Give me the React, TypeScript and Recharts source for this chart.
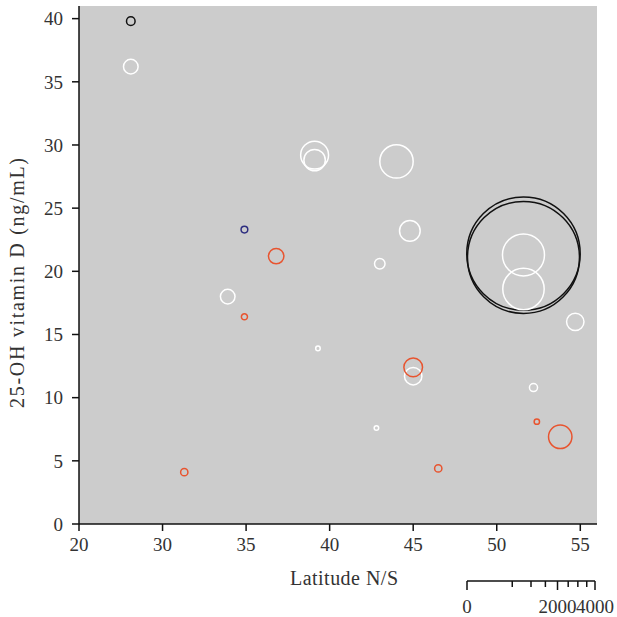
import React from 'react';
import { ScatterChart, Scatter, XAxis, YAxis, ZAxis } from 'recharts';

// latitude (deg), 25-OH vitamin D (ng/mL), sample size, colour group
const latitudes = [28.1, 28.1, 39.1, 39.1, 44.0, 44.8, 43.0, 51.6, 51.6, 51.6, 51.6, 54.7, 33.9, 34.9, 36.8, 34.9, 31.3, 39.3, 45.0, 45.0, 52.2, 42.8, 52.4, 53.8, 46.5];
const vitaminD = [39.8, 36.2, 29.2, 28.8, 28.7, 23.2, 20.6, 21.4, 21.1, 21.3, 18.6, 16.0, 18.0, 23.3, 21.2, 16.4, 4.1, 13.9, 12.4, 11.7, 10.8, 7.6, 8.1, 6.9, 4.4];
const sampleSizes = [18, 52, 190, 112, 272, 104, 27, 3140, 3060, 431, 419, 74, 52, 11, 58, 9, 13, 5, 85, 74, 16, 5, 7, 134, 13];
const groups = ['black', 'white', 'white', 'white', 'white', 'white', 'white', 'black', 'black', 'white', 'white', 'white', 'white', 'navy', 'red', 'red', 'red', 'white', 'red', 'white', 'white', 'white', 'red', 'red', 'red'];

const groupColors: Record<string, string> = {
  black: '#111111',
  white: '#ffffff',
  navy: '#2e2e80',
  red: '#e8542f',
};

const xTicks = [25, 30, 35, 40, 45, 50, 55];
const xTickLabels = ['20', '30', '35', '40', '45', '50', '55'];
const yTicks = [0, 5, 10, 15, 20, 25, 30, 35, 40];

const legendTicks = [0, 500, 1000, 1500, 2000, 2500, 3000, 3500, 4000];
const legendLabels: Record<number, string> = { 0: '0', 2000: '2000', 4000: '4000' };

const FONT = '"Liberation Serif", "Times New Roman", serif';
const TEXT = '#333333';

const points = latitudes.map((lat, i) => ({ lat, vit: vitaminD[i], n: sampleSizes[i], group: groups[i] }));
const groupNames = ['black', 'white', 'navy', 'red'];

// diameter of 128px for n = 4000 -> area = pi * 64^2
const maxArea = Math.PI * 64 * 64;

function LegendTick(props: any) {
  const { x, y, payload } = props;
  const v = payload.value;
  const major = legendLabels[v] !== undefined;
  return (
    <g>
      <line x1={x} x2={x} y1={y} y2={y + (major ? 9 : 6)} stroke="#111" strokeWidth={1.5} />
      {major && (
        <text x={x} y={y + 32} textAnchor="middle" fill={TEXT} fontFamily={FONT} fontSize={19}>
          {legendLabels[v]}
        </text>
      )}
    </g>
  );
}

export default function App() {
  return (
    <div style={{ position: 'absolute', left: 0, top: 0, width: 617, height: 617 }}>
      <div style={{ position: 'absolute', left: 0, top: 0 }}>
        <ScatterChart width={617} height={617} margin={{ top: 6, right: 20, bottom: 0, left: 0 }}>
          <rect x={79} y={6} width={518} height={518} fill="#cccccc" />
          <XAxis
            type="number"
            dataKey="lat"
            domain={[25, 56]}
            ticks={xTicks}
            allowDataOverflow
            height={93}
            tickFormatter={(v: number) => xTickLabels[xTicks.indexOf(v)] ?? ''}
            axisLine={{ stroke: '#111', strokeWidth: 1.5 }}
            tickLine={{ stroke: '#111', strokeWidth: 1.5 }}
            tickSize={7}
            tickMargin={7}
            tick={{ fill: TEXT, fontFamily: FONT, fontSize: 19 }}
            label={{
              content: (p: any) => {
                const vb = p.viewBox;
                return (
                  <text x={vb.x + vb.width / 2 + 6} y={585} textAnchor="middle" fill={TEXT} fontFamily={FONT} fontSize={20} textLength={108} lengthAdjust="spacing">
                    Latitude N/S
                  </text>
                );
              },
            }}
          />
          <YAxis
            type="number"
            dataKey="vit"
            domain={[0, 41]}
            ticks={yTicks}
            allowDataOverflow
            width={79}
            axisLine={{ stroke: '#111', strokeWidth: 1.5 }}
            tickLine={{ stroke: '#111', strokeWidth: 1.5 }}
            tickSize={7}
            tickMargin={9}
            tick={{ fill: TEXT, fontFamily: FONT, fontSize: 19 }}
            label={{
              content: (p: any) => {
                const vb = p.viewBox;
                const cy = vb.y + vb.height / 2 + 18;
                return (
                  <text x={24} y={cy} transform={`rotate(-90, 24, ${cy})`} textAnchor="middle" fill={TEXT} fontFamily={FONT} fontSize={20} textLength={250} lengthAdjust="spacing">
                    25-OH vitamin D (ng/mL)
                  </text>
                );
              },
            }}
          />
          <ZAxis type="number" dataKey="n" domain={[0, 4000]} range={[0, maxArea]} />
          {groupNames.map((g) => (
            <Scatter
              key={g}
              name={g}
              data={points.filter((p) => p.group === g)}
              shape="circle"
              fill="none"
              stroke={groupColors[g]}
              strokeWidth={1.5}
              isAnimationActive={false}
            />
          ))}
        </ScatterChart>
      </div>
      <div style={{ position: 'absolute', left: 0, top: 0, pointerEvents: 'none' }}>
        <ScatterChart width={617} height={617} margin={{ top: 570, right: 22, bottom: 0, left: 467 }}>
          <XAxis
            type="number"
            dataKey="n"
            scale="sqrt"
            domain={[0, 4000]}
            ticks={legendTicks}
            interval={0}
            allowDataOverflow
            height={36}
            axisLine={{ stroke: '#111', strokeWidth: 1.5 }}
            tickLine={false}
            tickSize={0}
            tickMargin={0}
            tick={<LegendTick />}
          />
          <YAxis type="number" dataKey="y" domain={[0, 1]} hide />
          <Scatter
            data={legendTicks.map((n) => ({ n, y: 0.5 }))}
            fill="none"
            stroke="none"
            isAnimationActive={false}
          />
        </ScatterChart>
      </div>
    </div>
  );
}
